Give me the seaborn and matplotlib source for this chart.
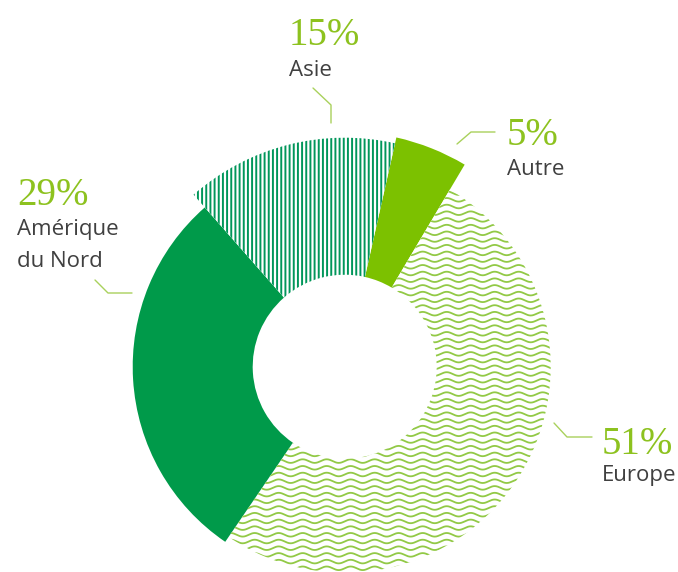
import numpy as np
import matplotlib
matplotlib.use("Agg")
import matplotlib.pyplot as plt
import seaborn as sns

# ── Data ──────────────────────────────────────────────────────────────────────
regions = ["Autre", "Europe", "Amérique du Nord", "Asie"]
shares  = [5, 51, 29, 15]
labels  = ["5%", "51%", "29%", "15%"]

# ── Style ─────────────────────────────────────────────────────────────────────
sns.set_style("white")
plt.rcParams["font.family"] = ["Open Sans", "DejaVu Sans"]
plt.rcParams["hatch.linewidth"] = 1.4

LIGHT  = "#7cc100"
DARK   = "#009a4a"
STRIPE = "#00965a"
WAVE   = "#92c946"
PCT    = "#8dc21f"
LEAD   = "#a9d15c"
GREY   = "#404040"

W, H = 678, 572
CX, CY = 344.7, 366.7          # donut centre in pixels
R_IN = 92
outer_r = [235, 206, 212, 229]  # each slice has its own outer radius

fig = plt.figure(figsize=(W / 100, H / 100), dpi=100)
ax = fig.add_axes([0, 0, 1, 1])

wedges, _ = ax.pie(shares, startangle=77.3, counterclock=False, radius=1,
                   wedgeprops=dict(width=0.5, linewidth=0))
for w, r in zip(wedges, outer_r):
    w.set_radius(r)
    w.set_width(r - R_IN)

wedges[0].set_facecolor(LIGHT)
wedges[2].set_facecolor(DARK)

# Asie: vertical stripes
wedges[3].set_facecolor("white")
wedges[3].set_edgecolor(STRIPE)
wedges[3].set_hatch("||||")

# Europe: wavy texture clipped to the wedge
wedges[1].set_facecolor("white")
xs = np.linspace(-230, 230, 1200)
for yy in np.arange(-215, 215, 6.7):
    ln, = ax.plot(xs, yy + 1.8 * np.sin(2 * np.pi * xs / 24), color=WAVE, lw=1.3)
    ln.set_clip_path(wedges[1])

# ── Labels + leader lines (pixel coords → data coords) ────────────────────────
def px(x, y):
    return x - CX, CY - y

label_pos = {  # left x, baseline of % and baselines of name lines (pixels)
    "Autre":            (507, 145, [("Autre", 175)]),
    "Europe":           (602, 454, [("Europe", 481)]),
    "Amérique du Nord": (17, 205, [("Amérique", 235), ("du Nord", 267)]),
    "Asie":             (289, 45, [("Asie", 76)]),
}
leaders = {
    "Autre":            [(457, 144), (471, 132), (495, 132)],
    "Europe":           [(554, 423), (567, 437), (592, 437)],
    "Amérique du Nord": [(95, 280), (108, 293), (132, 293)],
    "Asie":             [(313, 88), (331, 105), (331, 123)],
}

for reg, lab in zip(regions, labels):
    lx, by_pct, name_lines = label_pos[reg]
    ax.text(*px(lx, by_pct), lab, family="Liberation Serif", fontsize=28,
            color=PCT, ha="left", va="baseline")
    for line, by in name_lines:
        ax.text(*px(lx, by), line, fontsize=16, color=GREY, ha="left",
                va="baseline")
    pts = np.array([px(*p) for p in leaders[reg]])
    ax.plot(pts[:, 0], pts[:, 1], color=LEAD, lw=1.0)

ax.set_xlim(-CX, W - CX)
ax.set_ylim(CY - H, CY)
ax.set_aspect("auto")
ax.set_axis_off()

fig.savefig("out.png", dpi=100, facecolor="white")
plt.close(fig)
